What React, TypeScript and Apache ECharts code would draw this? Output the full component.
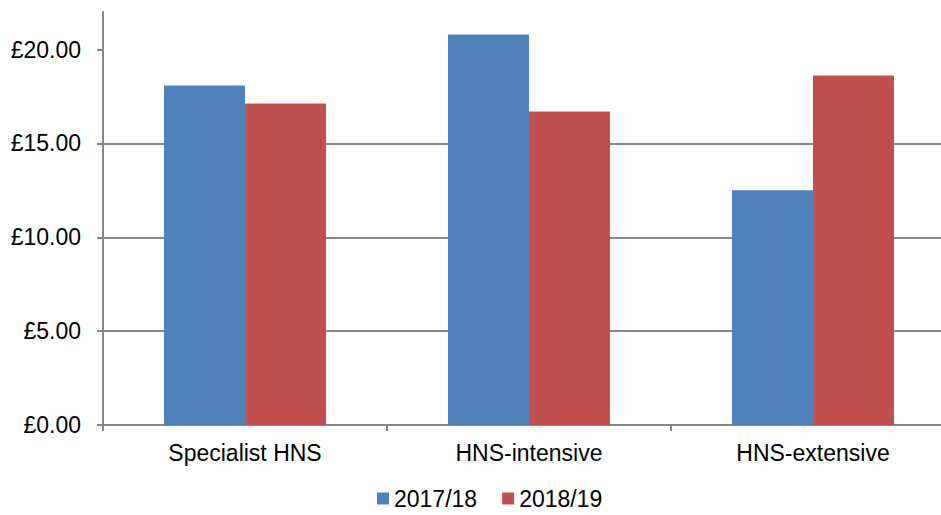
import React, { useEffect, useRef } from "react";
import * as echarts from "echarts";

const categories = ["Specialist HNS", "HNS-intensive", "HNS-extensive"];
const seriesNames = ["2017/18", "2018/19"];
const values2017 = [18.09, 20.8, 12.5];
const values2018 = [17.12, 16.7, 18.62];
const yTicks = [0, 5, 10, 15, 20];

export default function App() {
  const ref = useRef<HTMLDivElement>(null);
  useEffect(() => {
    if (!ref.current) return;
    const chart = echarts.init(ref.current, null, { renderer: "svg" });
    const font = "'Liberation Sans', Arial, sans-serif";
    chart.setOption({
      animation: false,
      textStyle: { fontFamily: font },
      grid: { left: 103, top: 12, width: 852, height: 413, outerBoundsMode: "none", containLabel: false },
      legend: {
        data: seriesNames,
        left: 372,
        top: 482,
        icon: "rect",
        itemWidth: 12,
        itemHeight: 12,
        itemGap: 25,
        textStyle: { fontSize: 23, color: "#000", fontFamily: font },
      },
      xAxis: {
        type: "category",
        data: categories,
        axisLine: { lineStyle: { color: "#868686", width: 2 } },
        axisTick: { show: true, length: 6, alignWithLabel: false, lineStyle: { color: "#868686", width: 2 } },
        axisLabel: { fontSize: 23, color: "#000", margin: 16, fontFamily: font, interval: 0 },
        splitLine: { show: false },
      },
      yAxis: {
        type: "value",
        min: 0,
        max: 22,
        interval: 5,
        axisLine: { show: true, lineStyle: { color: "#868686", width: 2 } },
        axisTick: { show: true, length: 6, customValues: yTicks, lineStyle: { color: "#868686", width: 2 } },
        axisLabel: {
          fontSize: 23,
          color: "#000",
          margin: 22,
          fontFamily: font,
          customValues: yTicks,
          formatter: (v: number) => "£" + v.toFixed(2),
        },
        splitLine: { show: true, showMaxLine: false, lineStyle: { color: "#868686", width: 2 } },
      },
      series: [
        {
          name: seriesNames[0],
          type: "bar",
          data: values2017,
          barWidth: 81,
          barGap: "0%",
          itemStyle: { color: "#4F81BD" },
        },
        {
          name: seriesNames[1],
          type: "bar",
          data: values2018,
          barWidth: 81,
          barGap: "0%",
          itemStyle: { color: "#C0504D" },
        },
      ],
    });
    return () => chart.dispose();
  }, []);
  return (
    <div style={{ position: "absolute", left: 0, top: 0, width: 941, height: 515, overflow: "hidden" }}>
      <div ref={ref} style={{ width: 980, height: 515 }} />
    </div>
  );
}
